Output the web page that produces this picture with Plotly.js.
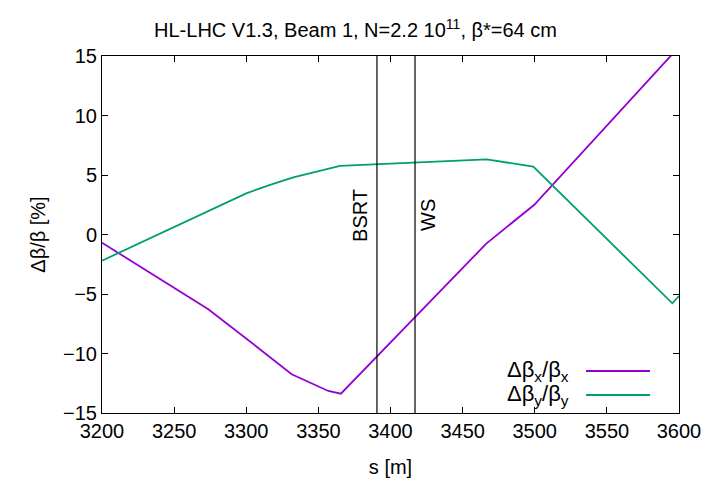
<!DOCTYPE html>
<html>
<head>
<meta charset="utf-8">
<script src="https://cdn.plot.ly/plotly-3.0.1.min.js"></script>
<style>html,body{margin:0;padding:0;background:#fff;}#plot{width:711px;height:487px;}</style>
</head>
<body>
<div id="plot"></div>
<script>
// Data
const sX = [3200, 3273.7, 3307.2, 3331.5, 3356.9, 3365.6, 3466.6, 3499.5, 3593.8, 3600];
const dBetaX = [-0.69, -6.29, -9.43, -11.75, -13.15, -13.38, -0.74, 2.48, 14.94, 15.75];
const sY = [3200, 3300, 3316, 3332.6, 3365, 3466.6, 3499, 3595.4, 3600];
const dBetaY = [-2.2, 3.46, 4.15, 4.8, 5.76, 6.32, 5.7, -5.78, -5.17];
const markerNames = ["BSRT", "WS"];
const markerS = [3390.6, 3417];
const seriesNames = ["Δβ<sub>x</sub>/β<sub>x</sub>", "Δβ<sub>y</sub>/β<sub>y</sub>"];
const xTicks = [3200, 3250, 3300, 3350, 3400, 3450, 3500, 3550, 3600];
const yTicks = [-15, -10, -5, 0, 5, 10, 15];

const colors = ["#9400d3", "#009e73"];
const FONT = "Liberation Sans, Arial, sans-serif";

const traces = [
  {x: sX, y: dBetaX, mode: "lines", name: seriesNames[0], line: {color: colors[0], width: 1.8}},
  {x: sY, y: dBetaY, mode: "lines", name: seriesNames[1], line: {color: colors[1], width: 1.8}}
];

const shapes = markerS.map(s => ({
  type: "line", xref: "x", yref: "paper", x0: s, x1: s, y0: 0, y1: 1,
  line: {color: "#000", width: 1.2}
}));
const labelShift = [-17, 13];
const annotations = markerNames.map((n, i) => ({
  x: markerS[i], y: 1.64, xref: "x", yref: "y", text: n, textangle: -90,
  showarrow: false, xshift: labelShift[i], font: {family: FONT, size: 20, color: "#000"}
}));

// gnuplot-style legend: text on the left, line sample on the right
const legY = [0.1176, 0.0504];
seriesNames.forEach((n, i) => {
  annotations.push({
    x: 0.8128, y: legY[i], xref: "paper", yref: "paper", xanchor: "right", yanchor: "middle",
    text: n, showarrow: false, font: {family: FONT, size: 22, color: "#000"}
  });
  shapes.push({
    type: "line", xref: "paper", yref: "paper", x0: 0.8388, x1: 0.9497, y0: legY[i], y1: legY[i],
    line: {color: colors[i], width: 1.8}
  });
});

const axisCommon = {
  showgrid: false, zeroline: false, showline: true, mirror: "ticks", linecolor: "#000", linewidth: 1,
  ticks: "inside", ticklen: 6, tickcolor: "#000", tickwidth: 1,
  tickfont: {family: FONT, size: 20, color: "#000"}, tickmode: "array"
};

const layout = {
  width: 711, height: 487,
  margin: {l: 102, r: 32, t: 56, b: 74},
  paper_bgcolor: "#fff", plot_bgcolor: "#fff",
  showlegend: false,
  title: {text: "HL-LHC V1.3, Beam 1, N=2.2 10<sup>11</sup>, β*=64 cm", font: {family: FONT, size: 20, color: "#000"},
          x: 0.5, xanchor: "center", y: 0.938, yanchor: "middle"},
  xaxis: Object.assign({}, axisCommon, {range: [3200, 3600], tickvals: xTicks,
    title: {text: "s [m]", font: {family: FONT, size: 20, color: "#000"}, standoff: 18}}),
  yaxis: Object.assign({}, axisCommon, {range: [-15, 15], tickvals: yTicks,
    title: {text: "Δβ/β [%]", font: {family: FONT, size: 20, color: "#000"}, standoff: 12}}),
  shapes: shapes,
  annotations: annotations
};

Plotly.newPlot("plot", traces, layout, {displayModeBar: false, staticPlot: true});
</script>
</body>
</html>
